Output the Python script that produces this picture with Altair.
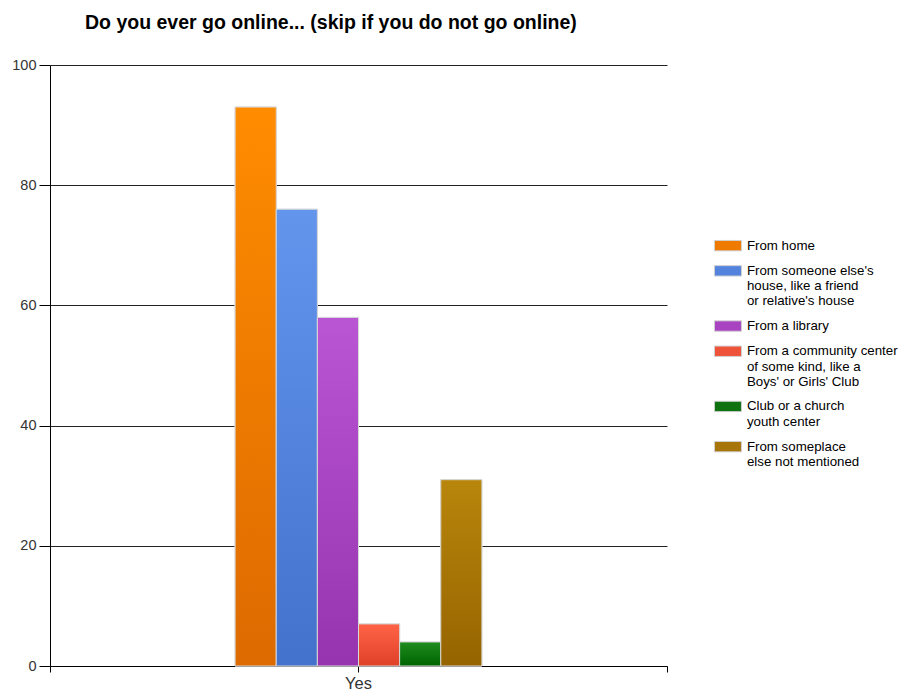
import altair as alt
import pandas as pd

categories = ["Yes"]
series = [
    "From home",
    "From someone else's\nhouse, like a friend\nor relative's house",
    "From a library",
    "From a community center\nof some kind, like a\nBoys' or Girls' Club",
    "Club or a church\nyouth center",
    "From someplace\nelse not mentioned",
]
values = [93, 76, 58, 7, 4, 31]
top_colors = ["#FF8C00", "#6495ED", "#BA55D3", "#FF6347", "#1E8C1E", "#B8860B"]
bottom_colors = ["#DD6A00", "#4272CC", "#9634AF", "#DE4128", "#006400", "#966400"]
legend_colors = ["#EE7B00", "#5383DC", "#A844C1", "#EE5238", "#0F7210", "#A7750A"]

df = pd.DataFrame({
    "cat": [categories[0]] * len(series),
    "series": series,
    "value": values,
})

W, H = 617, 601
FONT = "Liberation Sans"

x_scale = alt.Scale(domain=categories, paddingInner=0, paddingOuter=0)
# bars occupy the middle 40% of the single category band
xo_scale = alt.Scale(domain=series, paddingInner=0, paddingOuter=0, range=[W * 0.3, W * 0.7])
y_scale = alt.Scale(domain=[0, 100], nice=False)

y_axis = alt.Axis(values=[0, 20, 40, 60, 80, 100], grid=True, gridColor="#222222", gridWidth=1,
                  domainColor="#000000", tickColor="#000000", tickSize=11, labelPadding=3,
                  labelFont=FONT, labelFontSize=14.5, labelColor="#333333", title=None)
x_axis_main = alt.Axis(orient="bottom", tickBand="extent", tickSize=6, tickColor="#000000",
                       domainColor="#000000", labels=False, title=None, grid=False)
x_axis_center = alt.Axis(orient="bottom", tickSize=6, tickColor="#000000", domain=False,
                         labelFont=FONT, labelFontSize=16.5, labelColor="#333333",
                         labelPadding=3, labelAngle=0, title=None, grid=False)

legend = alt.Legend(
    title=None, orient="none", legendX=671.3, legendY=174, padding=0,
    symbolType="M-2.6,-1H2.6V1H-2.6Z", symbolSize=108,
    symbolStrokeColor="#d0d0d0", symbolStrokeWidth=1, symbolOpacity=1,
    labelOffset=12.3, labelFont=FONT, labelFontSize=13.3, labelColor="#000000",
    rowPadding=10.2, labelLimit=400,
    labelExpr="split(datum.label, '\\n')",
)

base = alt.Chart(df)

layers = [
    base.mark_bar(stroke="#d8d8d8", strokeWidth=1).encode(
        x=alt.X("cat:N", scale=x_scale, axis=x_axis_main),
        xOffset=alt.XOffset("series:N", scale=xo_scale, sort=series),
        y=alt.Y("value:Q", scale=y_scale, axis=y_axis),
        color=alt.Color("series:N", scale=alt.Scale(domain=series, range=legend_colors),
                        sort=series, legend=legend),
    )
]

for i, s in enumerate(series):
    grad = alt.Gradient(
        gradient="linear",
        stops=[alt.GradientStop(color=top_colors[i], offset=0),
               alt.GradientStop(color=bottom_colors[i], offset=1)],
        x1=0, x2=0, y1=0, y2=1,
    )
    layers.append(
        base.transform_filter(alt.datum.series == s).mark_bar(
            fill=grad, stroke="#d8d8d8", strokeWidth=1
        ).encode(
            x=alt.X("cat:N", scale=x_scale, axis=x_axis_center if i == 0 else None),
            xOffset=alt.XOffset("series:N", scale=xo_scale, sort=series),
            y=alt.Y("value:Q", scale=y_scale, axis=None),
        )
    )

chart = alt.layer(*layers).resolve_axis(x="independent", y="independent").properties(
    width=W, height=H,
    autosize=alt.AutoSizeParams(type="none"),
    padding={"left": 50, "top": 65, "right": 236, "bottom": 26},
    background="white",
    title=alt.TitleParams(
        text="Do you ever go online... (skip if you do not go online)",
        font=FONT, fontSize=19.5, fontWeight="bold", color="#000000",
        anchor="start", frame="group", dx=35, offset=9, baseline="alphabetic",
    ),
).configure_view(stroke=None)

chart.save("out.html", embed_options={"renderer": "svg", "actions": False})
